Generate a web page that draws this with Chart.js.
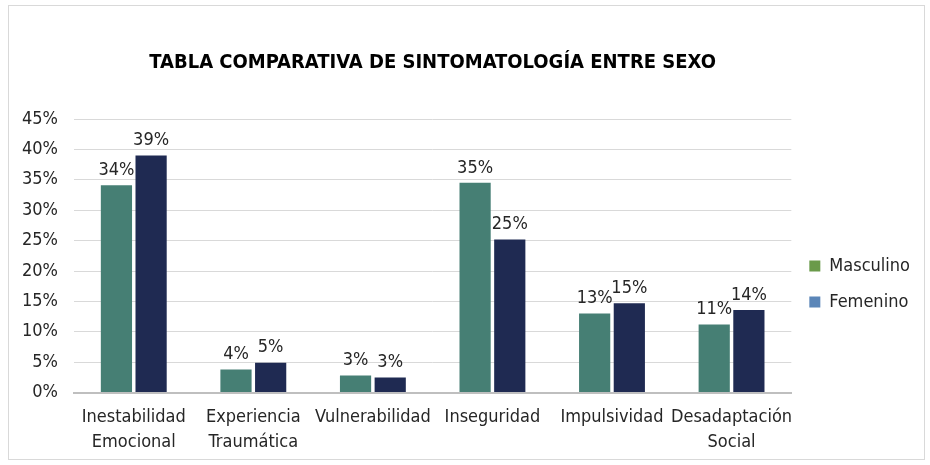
<!DOCTYPE html>
<html>
<head>
<meta charset="utf-8">
<script src="https://cdn.jsdelivr.net/npm/chart.js@4.4.0/dist/chart.umd.min.js"></script>
<style>
  body { margin: 0; background: #fff; }
  #caja {
    position: absolute; left: 8px; top: 5px;
    width: 917px; height: 455px;
    border: 1px solid #d9d9d9; box-sizing: border-box;
  }
</style>
</head>
<body>
<div id="caja"><canvas id="sintomasChart"></canvas></div>
<script>
// Datos del gráfico
const categorias = [
    ['Inestabilidad', 'Emocional'],
    ['Experiencia', 'Traumática'],
    'Vulnerabilidad',
    'Inseguridad',
    'Impulsividad',
    ['Desadaptación', 'Social']
];
const masculino = [0.341, 0.038, 0.028, 0.345, 0.130, 0.112];
const femenino = [0.390, 0.049, 0.025, 0.252, 0.147, 0.136];
const ticksY = ['0%', '5%', '10%', '15%', '20%', '25%', '30%', '35%', '40%', '45%'];

const fuente = "'DejaVu Sans Condensed', 'Liberation Sans Narrow', sans-serif";

// Etiquetas de porcentaje encima de cada barra
const etiquetasPlugin = {
    id: 'etiquetas',
    afterDatasetsDraw(chart) {
        const ctx = chart.ctx;
        ctx.save();
        ctx.font = '18px ' + fuente;
        ctx.fillStyle = '#262626';
        ctx.textAlign = 'center';
        ctx.textBaseline = 'bottom';
        chart.data.datasets.forEach((ds, i) => {
            chart.getDatasetMeta(i).data.forEach((bar, j) => {
                const texto = Math.round(ds.data[j] * 100) + '%';
                ctx.fillText(texto, bar.x, bar.y - 6);
            });
        });
        ctx.restore();
    }
};

const ctx = document.getElementById('sintomasChart').getContext('2d');
new Chart(ctx, {
    type: 'bar',
    data: {
        labels: categorias,
        datasets: [{
            label: 'Masculino',
            data: masculino,
            backgroundColor: '#467f74',
            legendColor: '#6a9a4a',
            categoryPercentage: 0.58,
            barPercentage: 0.9
        }, {
            label: 'Femenino',
            data: femenino,
            backgroundColor: '#1f2a52',
            legendColor: '#5b86b8',
            categoryPercentage: 0.58,
            barPercentage: 0.9
        }]
    },
    options: {
        responsive: true,
        maintainAspectRatio: false,
        animation: false,
        layout: { padding: { top: 45, left: -3, right: 4, bottom: 0 } },
        scales: {
            y: {
                min: 0,
                max: 0.45,
                ticks: {
                    stepSize: 0.05,
                    color: '#262626',
                    font: { family: fuente, size: 18 },
                    padding: 16,
                    callback: function(value, index) {
                        return ticksY[index];
                    }
                },
                grid: { color: '#d9d9d9', drawTicks: false },
                border: { display: false }
            },
            x: {
                ticks: {
                    color: '#262626',
                    font: { family: fuente, size: 18, lineHeight: 1.4 },
                    maxRotation: 0,
                    autoSkip: false,
                    padding: 4
                },
                grid: { display: false },
                border: { color: '#bfbfbf', width: 2 }
            }
        },
        plugins: {
            title: {
                display: true,
                text: 'TABLA COMPARATIVA DE SINTOMATOLOGÍA ENTRE SEXO',
                color: '#000',
                fullSize: false,
                font: { family: fuente, size: 20, weight: 'bold' },
                padding: { top: 0, bottom: 44 }
            },
            legend: {
                position: 'right',
                title: {
                    display: true,
                    text: ' ',
                    font: { size: 10 },
                    padding: { top: 23, bottom: 23 }
                },
                labels: {
                    color: '#262626',
                    font: { family: fuente, size: 18 },
                    boxWidth: 11,
                    boxHeight: 11,
                    padding: 18,
                    generateLabels: function(chart) {
                        return chart.data.datasets.map((ds, i) => ({
                            text: ds.label,
                            fillStyle: ds.legendColor,
                            strokeStyle: ds.legendColor,
                            lineWidth: 0,
                            fontColor: '#262626',
                            datasetIndex: i
                        }));
                    }
                }
            },
            tooltip: { enabled: false }
        }
    },
    plugins: [etiquetasPlugin]
});
</script>
</body>
</html>
